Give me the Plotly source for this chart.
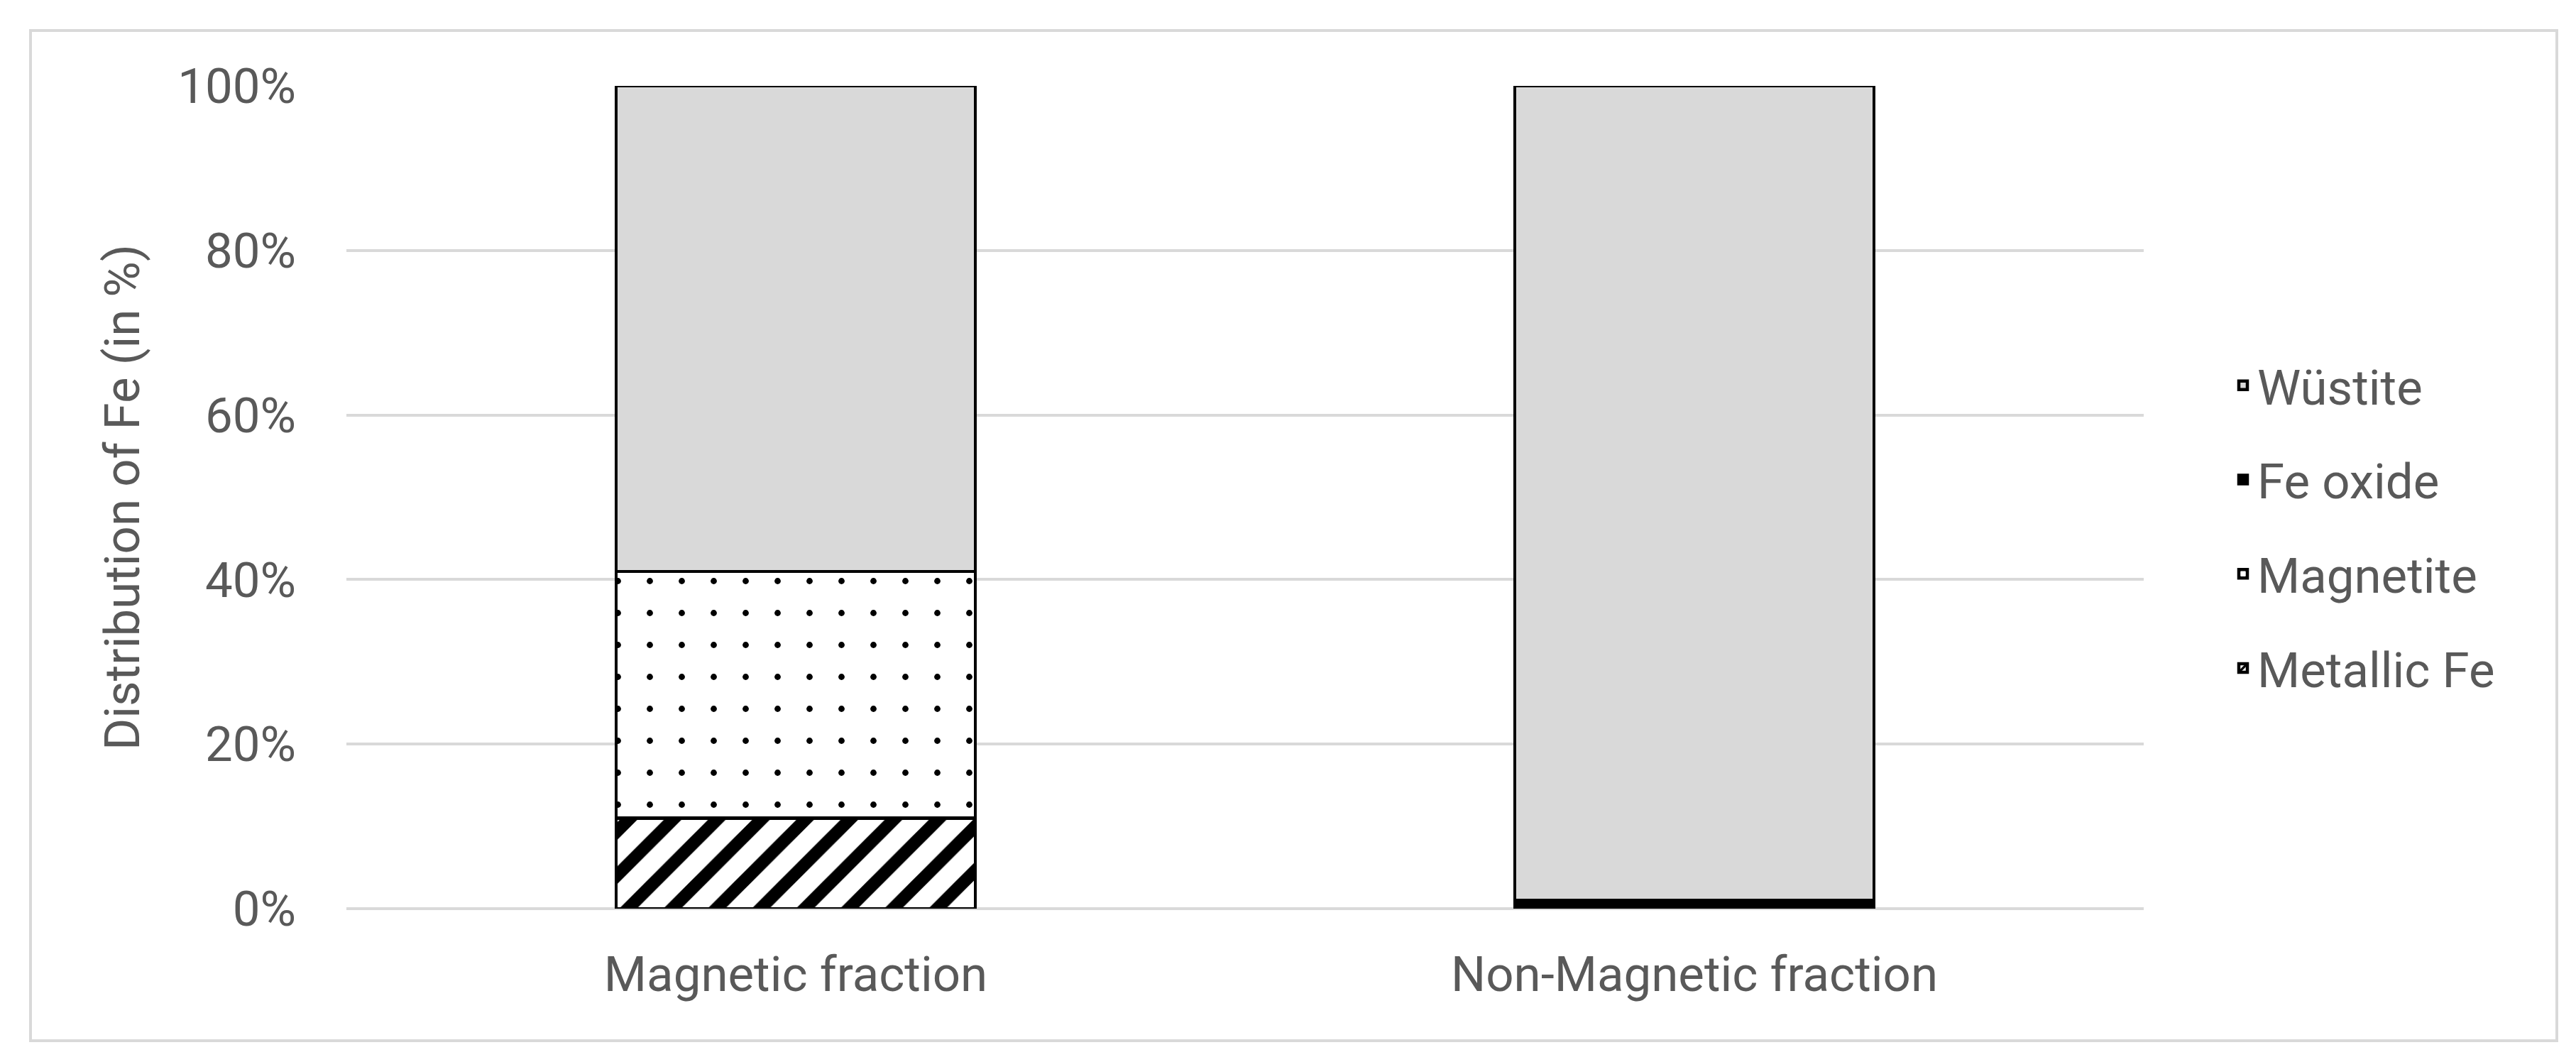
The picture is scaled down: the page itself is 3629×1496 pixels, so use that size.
import plotly.graph_objects as go

categories = ["Magnetic fraction", "Non-Magnetic fraction"]
metallic_fe = [0.11, 0.0]
magnetite = [0.30, 0.0]
fe_oxide = [0.0, 0.01]
wustite = [0.59, 0.99]

W, H = 3629, 1496
L, R, T, B = 480, 3012, 113, 1272
FONT = "Roboto"
FS = 69
GREY_TXT = "#595959"

fig = go.Figure()
line = dict(color="black", width=4.5)
fig.add_trace(go.Bar(x=categories, y=metallic_fe, name="Metallic Fe", legendgroup="a", legendrank=4,
                     marker=dict(color="white", line=line,
                                 pattern=dict(shape="/", fgcolor="black", bgcolor="white",
                                              fgopacity=1, size=44, solidity=0.4))))
fig.add_trace(go.Bar(x=categories, y=magnetite, name="Magnetite", legendgroup="b", legendrank=3,
                     marker=dict(color="white", line=line,
                                 pattern=dict(shape=".", fgcolor="black", bgcolor="white",
                                              fgopacity=1, size=45, solidity=0.03))))
fig.add_trace(go.Bar(x=categories, y=fe_oxide, name="Fe oxide", legendgroup="c", legendrank=2,
                     marker=dict(color="black", line=line)))
fig.add_trace(go.Bar(x=categories, y=wustite, name="Wüstite", legendgroup="d", legendrank=1,
                     marker=dict(color="#d9d9d9", line=line)))

fig.update_layout(
    width=W, height=H,
    barmode="stack", bargap=0.6,
    plot_bgcolor="white", paper_bgcolor="white",
    margin=dict(l=L, r=W - R, t=T, b=H - B, autoexpand=False),
    font=dict(family=FONT, size=FS, color=GREY_TXT),
    showlegend=True,
    legend=dict(x=(3132 - L) / (R - L), xanchor="left", y=(B - 734) / (B - T), yanchor="middle",
                traceorder="grouped", tracegroupgap=40,
                font=dict(family=FONT, size=FS, color=GREY_TXT)),
    xaxis=dict(showgrid=False, showline=False, ticks="", ticklabelstandoff=46,
               tickfont=dict(family=FONT, size=FS, color=GREY_TXT)),
    yaxis=dict(range=[0, 1], dtick=0.2, tickformat=".0%", showgrid=True,
               gridcolor="#d9d9d9", gridwidth=4, zeroline=True, zerolinecolor="#d9d9d9",
               zerolinewidth=4, showline=False, ticks="", ticklabelstandoff=70,
               tickfont=dict(family=FONT, size=FS, color=GREY_TXT),
               title=dict(text="Distribution of Fe (in %)", standoff=30,
                          font=dict(family=FONT, size=FS, color=GREY_TXT))),
)

pw, ph = R - L, B - T
fig.add_shape(type="rect", xref="paper", yref="paper",
              x0=(35 - L) / pw, x1=(3594 - L) / pw,
              y0=(B - 1458) / ph, y1=(B - 35) / ph,
              line=dict(color="#d9d9d9", width=4), fillcolor="rgba(0,0,0,0)", layer="below")

fig.write_html("out.html")
